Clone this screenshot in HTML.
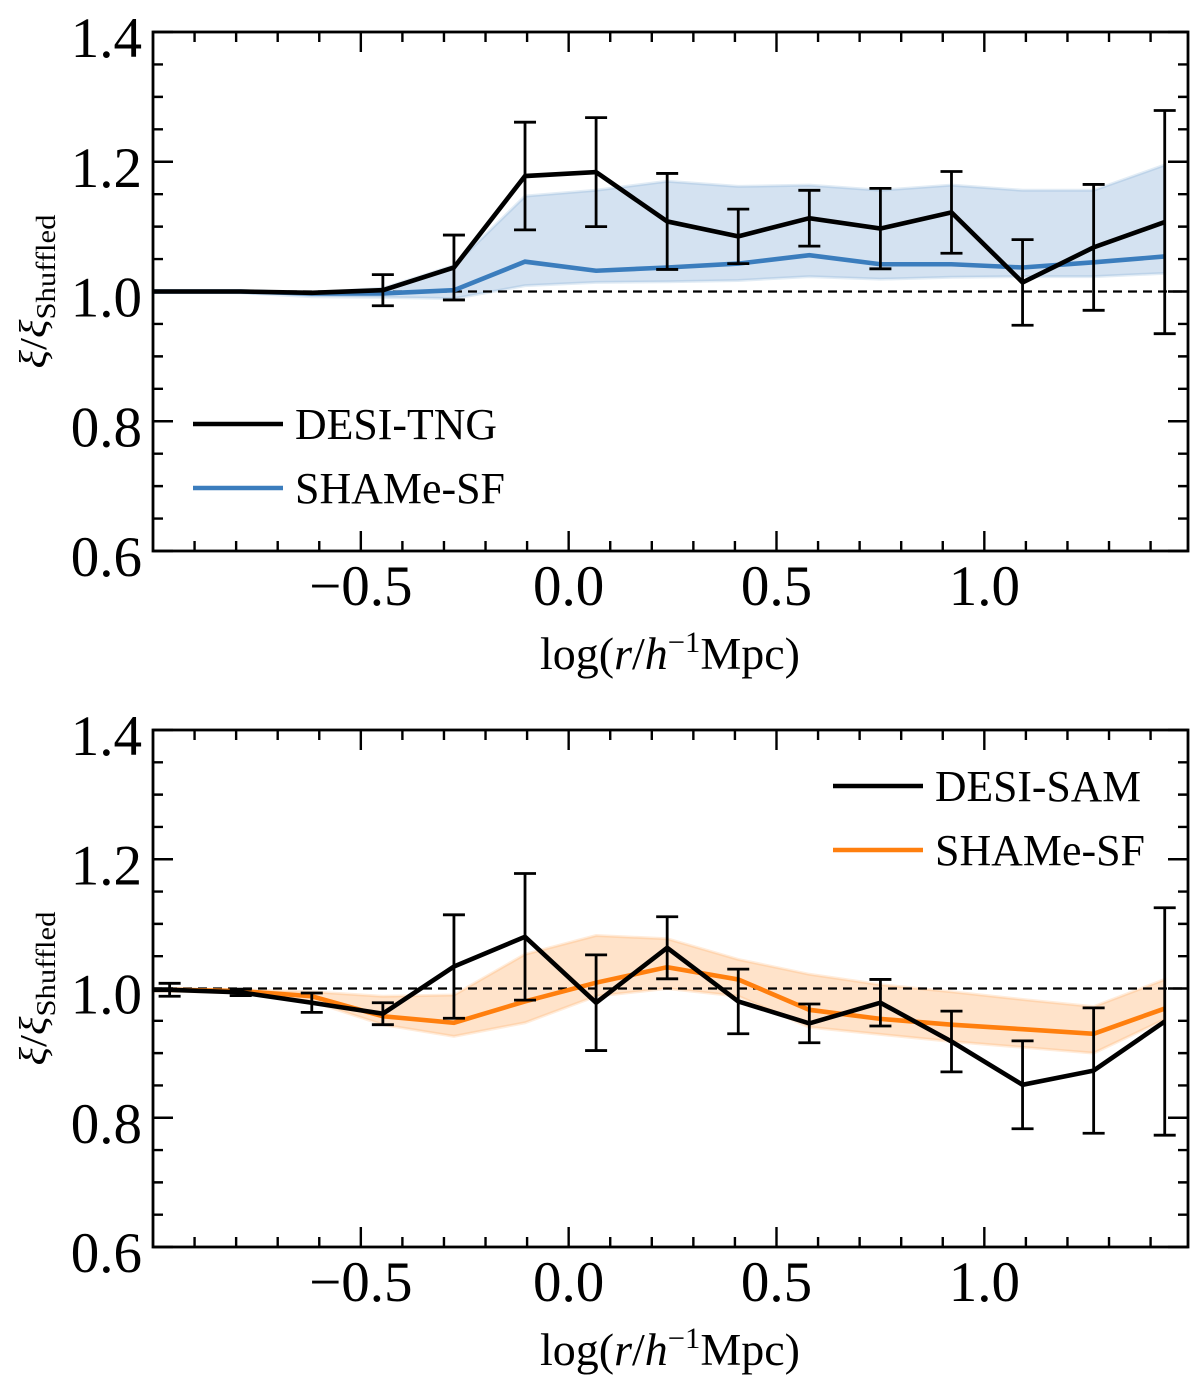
<!DOCTYPE html>
<html><head><meta charset="utf-8"><style>
body{margin:0;background:#fff}
svg{display:block;font-family:"Liberation Serif",serif}
</style></head><body>
<svg id="chart" width="1200" height="1389" viewBox="0 0 1200 1389" xmlns="http://www.w3.org/2000/svg"></svg>
<script>
const xs = [-0.96,-0.789,-0.618,-0.447,-0.276,-0.105,0.066,0.237,0.408,0.579,0.75,0.921,1.092,1.263,1.434];
const topBlack = [1.0,1.0,0.998,1.002,1.037,1.178,1.184,1.108,1.085,1.113,1.097,1.122,1.014,1.068,1.107];
const topBlackErr = [0,0,0,0.024,0.05,0.083,0.084,0.074,0.042,0.043,0.062,0.063,0.066,0.097,0.172];
const topBlue = [1,1,0.997,0.997,1.002,1.046,1.032,1.037,1.043,1.056,1.042,1.042,1.037,1.045,1.054];
const topBlueHi = [1,1,0.998,1.005,1.04,1.147,1.156,1.17,1.162,1.164,1.156,1.164,1.156,1.156,1.195];
const topBlueLo = [1,0.998,0.992,0.991,0.989,1.009,1.014,1.015,1.017,1.023,1.019,1.022,1.023,1.023,1.028];
const botBlack = [0.998,0.994,0.978,0.961,1.034,1.08,0.978,1.063,0.98,0.946,0.978,0.918,0.851,0.873,0.949];
const botBlackErr = [0.01,0.005,0.015,0.017,0.08,0.098,0.074,0.048,0.05,0.03,0.036,0.047,0.068,0.097,0.176];
const botOrange = [0.998,0.996,0.988,0.957,0.947,0.98,1.009,1.033,1.014,0.967,0.953,0.944,0.937,0.93,0.969];
const botOrangeHi = [1.0,0.998,0.995,0.988,0.99,1.053,1.082,1.077,1.045,1.022,1.006,0.995,0.983,0.972,1.014];
const botOrangeLo = [0.996,0.993,0.98,0.944,0.926,0.947,0.988,1.0,0.988,0.94,0.929,0.918,0.909,0.9,0.952];
const xTicks = [-0.5,0.0,0.5,1.0];
const xTickLabels = ["\u22120.5","0.0","0.5","1.0"];
const yTicks = [0.6,0.8,1.0,1.2,1.4];
const yTickLabels = ["0.6","0.8","1.0","1.2","1.4"];

const NS="http://www.w3.org/2000/svg";
const svg=document.getElementById('chart');
function mk(tag,attrs,parent){const e=document.createElementNS(NS,tag);for(const k in attrs)e.setAttribute(k,attrs[k]);(parent||svg).appendChild(e);return e;}
const X0=153,X1=1188,XMIN=-1.0,XMAX=1.49;
function sx(v){return X0+(v-XMIN)/(XMAX-XMIN)*(X1-X0);}

function panel(top,bot,name,series,legend){
  const g=mk('g',{});
  
  
  const sy=v=>bot-(v-0.6)/0.8*(bot-top);
  series.forEach(s=>{
    if(s.hi){
      let d='M'+xs.map((x,i)=>sx(x)+','+sy(s.hi[i])).join('L')+'L'+xs.map((x,i)=>sx(x)+','+sy(s.lo[i])).reverse().join('L')+'Z';
      const p=mk('path',{d:d,fill:s.fill,stroke:s.edge,'stroke-width':3},g);
      
      
    }
  });
  const dash=mk('line',{x1:X0,x2:X1,y1:sy(1),y2:sy(1),stroke:'#000','stroke-width':2.2,'stroke-dasharray':'9,6'},g);
  
  
  series.forEach(s=>{
    if(s.err){
      xs.forEach((x,i)=>{
        if(s.err[i]<=0)return;
        const e=mk('path',{d:`M${sx(x)},${sy(s.v[i]+s.err[i])}V${sy(s.v[i]-s.err[i])}M${sx(x)-11},${sy(s.v[i]+s.err[i])}h22M${sx(x)-11},${sy(s.v[i]-s.err[i])}h22`,stroke:'#000','stroke-width':2.8,fill:'none'},g);
        
        
      });
    }
    const pts=[[X0,sy(s.v[0])]].concat(xs.map((x,i)=>[sx(x),sy(s.v[i])]));
    const l=mk('polyline',{points:pts.map(p=>p.join(',')).join(' '),fill:'none',stroke:s.color,'stroke-width':4.6,'stroke-linejoin':'miter'},g);
    
    
  });
  const f=mk('rect',{x:X0,y:top,width:X1-X0,height:bot-top,fill:'none',stroke:'#000','stroke-width':2.8},g);
  
  
  let d='';
  for(let k=-9;k<=14;k++){const v=k/10;const x=sx(v);const maj=Math.abs(v*2-Math.round(v*2))<1e-6;const L=maj?20:10;d+=`M${x},${bot}v${-L}M${x},${top}v${L}`;}
  for(let k=0;k<=16;k++){const v=0.6+k*0.05;const y=sy(v);const L=(k%4==0)?20:10;d+=`M${X0},${y}h${L}M${X1},${y}h${-L}`;}
  const t=mk('path',{d:d,stroke:'#000','stroke-width':2.4,fill:'none'},g);
  
  
  xTicks.forEach((v,i)=>{const tx=mk('text',{x:sx(v),y:bot+54,'font-size':57,'text-anchor':'middle'},g);tx.textContent=xTickLabels[i];
    
    });
  yTicks.forEach((v,i)=>{const tx=mk('text',{x:142,y:sy(v)+25,'font-size':57,'text-anchor':'end'},g);tx.textContent=yTickLabels[i];
    
    });
  const xl=mk('text',{x:540,y:bot+118,'font-size':45,textLength:260,lengthAdjust:'spacingAndGlyphs'},g);
  xl.innerHTML='log(<tspan font-style="italic">r</tspan>/<tspan font-style="italic">h</tspan><tspan font-size="30" dy="-17">\u22121</tspan><tspan dy="17">Mpc)</tspan>';
  
  
  const cy=(top+bot)/2;
  const yl=mk('text',{x:0,y:0,'font-size':38,'text-anchor':'middle',textLength:154,lengthAdjust:'spacingAndGlyphs',transform:`translate(46,${cy}) rotate(-90)`},g);
  yl.innerHTML='<tspan font-style="italic">\u03BE</tspan>/<tspan font-style="italic">\u03BE</tspan><tspan font-size="27" dy="9">Shuffled</tspan>';
  
  
  legend.items.forEach((it,i)=>{
    const y=legend.y+i*64;
    const lg=mk('g',{},g);
    
    
    mk('line',{x1:legend.x,x2:legend.x+90,y1:y,y2:y,stroke:it.color,'stroke-width':4.6},lg);
    const tx=mk('text',{x:legend.x+102,y:y+15,'font-size':44,textLength:it.w,lengthAdjust:'spacingAndGlyphs'},lg);tx.textContent=it.label;
  });
}
panel(32,551,'top-panel',[
  {name:'shame-sf-blue',v:topBlue,hi:topBlueHi,lo:topBlueLo,color:'#3b7dbd',fill:'rgba(59,125,189,0.22)',edge:'rgba(59,125,189,0.15)'},
  {name:'desi-tng',v:topBlack,err:topBlackErr,color:'#000'}
],{x:193,y:424,items:[{label:'DESI-TNG',color:'#000',w:202},{label:'SHAMe-SF',color:'#3b7dbd',w:210}]});
panel(730,1247,'bottom-panel',[
  {name:'shame-sf-orange',v:botOrange,hi:botOrangeHi,lo:botOrangeLo,color:'#ff7f0e',fill:'rgba(255,127,14,0.22)',edge:'rgba(255,127,14,0.15)'},
  {name:'desi-sam',v:botBlack,err:botBlackErr,color:'#000'}
],{x:833,y:786,items:[{label:'DESI-SAM',color:'#000',w:206},{label:'SHAMe-SF',color:'#ff7f0e',w:210}]});
</script>
</body></html>
